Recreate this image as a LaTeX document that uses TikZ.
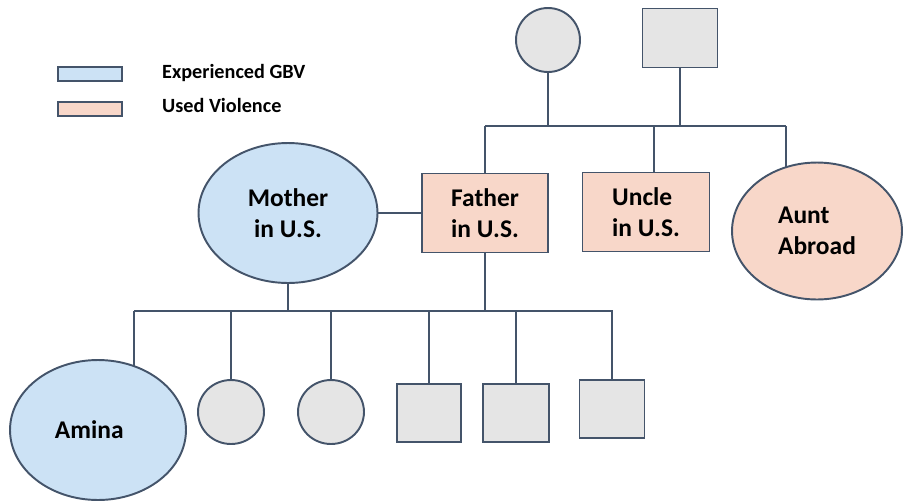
\documentclass[tikz,border=0pt]{standalone}
\usepackage{fontspec}
\setmainfont{Carlito}
\usetikzlibrary{shapes.geometric,backgrounds}
\definecolor{linegray}{HTML}{44546A}
\definecolor{gbvblue}{HTML}{CCE2F5}
\definecolor{violpink}{HTML}{F8D7C9}
\definecolor{kingray}{HTML}{E5E5E5}

\begin{document}
\begin{tikzpicture}[x=0.02cm, y=-0.02cm,
      person/.style={draw=linegray, line width=1.1pt, inner sep=0pt,
                     font=\fontsize{14.5}{18}\selectfont\bfseries, align=center},
      female/.style={person, ellipse},
      male/.style={person, rectangle},
      gbv/.style={fill=gbvblue},
      viol/.style={fill=violpink},
      other/.style={fill=kingray},
      tie/.style={draw=linegray, line width=1.1pt},
      key/.style={draw=linegray, line width=1.1pt, inner sep=0pt,
                  minimum width=1.28cm, minimum height=0.28cm},
      keytext/.style={anchor=west, font=\fontsize{11.5}{14}\selectfont\bfseries}
  ]
    \useasboundingbox (0,0) rectangle (903,501);
    \node[key, gbv]  (keygbv)  at (90,74)  {};
    \node[key, viol] (keyviol) at (90,109) {};
    \node[keytext] (txtgbv)  at (156,73)  {Experienced GBV};
    \node[keytext] (txtviol) at (156,105) {Used Violence};
    \node[female, other, minimum size=1.28cm] (gmother) at (548,40) {};
    \node[male, other, minimum width=1.5cm, minimum height=1.18cm] (gfather) at (680,38) {};
    \node[female, gbv, minimum width=3.58cm, minimum height=2.8cm] (mother) at (288,213) {Mother\\in U.S.};
    \node[male, viol, minimum width=2.52cm, minimum height=1.58cm] (father) at (485,213) {Father\\in U.S.};
    \node[male, viol, align=left, minimum width=2.54cm, minimum height=1.58cm] (uncle) at (646,212) {Uncle\\in U.S.\hspace{0.3cm}};
    \node[female, viol, align=left, minimum width=3.4cm, minimum height=2.74cm] (aunt) at (817,231) {Aunt\\Abroad};
    \node[female, gbv, minimum width=3.52cm, minimum height=2.8cm] (amina) at (98,430) {Amina\hspace{0.35cm}};
    \node[female, other, minimum width=1.32cm, minimum height=1.28cm] (girla) at (231,412) {};
    \node[female, other, minimum width=1.32cm, minimum height=1.28cm] (girlb) at (331,412) {};
    \node[male, other, minimum width=1.28cm, minimum height=1.16cm] (boya) at (429,413) {};
    \node[male, other, minimum width=1.32cm, minimum height=1.16cm] (boyb) at (516,413) {};
    \node[male, other, minimum width=1.3cm, minimum height=1.16cm] (boyc) at (612,409) {};
    \begin{scope}[on background layer]
      \coordinate (sibleft)  at (485,126);
      \coordinate (sibuncle) at (654,126);
      \coordinate (sibright) at (786,126);
      \draw[tie] (sibleft) -- (sibright);
      \draw[tie] (gmother) -- (gmother |- sibleft);
      \draw[tie] (gfather) -- (gfather |- sibleft);
      \draw[tie] (sibleft) -- (father);
      \draw[tie] (sibuncle) -- (sibuncle |- uncle.center);
      \draw[tie] (sibright) -- (sibright |- aunt.center);
      \draw[tie] (mother) -- (father);
      \coordinate (kidleft)  at (134,311);
      \coordinate (kidright) at (613,311);
      \draw[tie] (kidleft) -- (kidright);
      \draw[tie] (mother) -- (mother |- kidleft);
      \draw[tie] (father) -- (father |- kidleft);
      \draw[tie] (kidleft) -- (kidleft |- amina.center);
      \foreach \kid in {girla,girlb,boya,boyb,boyc}
        \draw[tie] (\kid |- kidleft) -- (\kid);
    \end{scope}
  \end{tikzpicture}
\end{document}
